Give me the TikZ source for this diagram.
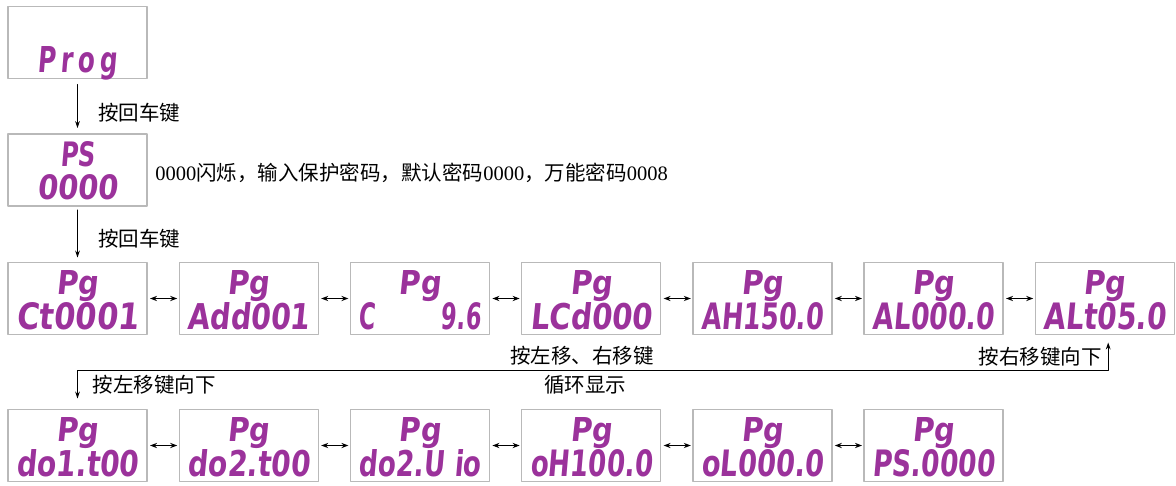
\documentclass[tikz,border=0pt]{standalone}
\usepackage{fontspec}
\usepackage{graphicx}
\setmainfont{Liberation Serif}
\newfontfamily\cjk{Noto Sans CJK SC}
\newfontfamily\lcdfont[FakeSlant=0.12]{DejaVu Sans}
\usetikzlibrary{positioning,arrows.meta,calc}

\definecolor{lcdpurple}{RGB}{155,50,155}
\definecolor{panelgray}{RGB}{185,185,185}

% segment-style text squeezed into a fixed field
\newcommand{\lcd}[3]{\resizebox{#1}{#2}{\lcdfont\bfseries #3}}

\begin{document}
\begin{tikzpicture}[x=0.5pt, y=-0.5pt, line cap=round, line join=round,
    panel/.style={draw=panelgray, line width=0.7pt, minimum width=69.5pt, minimum height=36pt, inner sep=0pt, outer sep=0pt},
    seg/.style={text=lcdpurple, inner sep=0pt, anchor=base},
    hint/.style={font=\fontsize{10.25pt}{12pt}\selectfont\cjk, inner sep=0pt},
    flow/.style={-{Stealth[length=3.5pt, width=2.4pt]}, line width=0.5pt},
    twoway/.style={{Stealth[length=3.5pt, width=2.6pt]}-{Stealth[length=3.5pt, width=2.6pt]}, line width=0.7pt, shorten <=1.5pt, shorten >=1pt}]

\useasboundingbox (0,0) rectangle (1176,486);

% start screens
\node[panel] (prog) at (77.5,42.5) {};
\node[panel] (ps) at (77.5,170) {};
\node[seg] (prog-a) at ($(prog.center)+(0,30.5)$) {\lcd{40pt}{13pt}{P\kern.2em r\kern.2em o\kern.2em g}};
\node[seg] (ps-a) at ($(ps.center)+(0,-3)$) {\lcd{17.5pt}{12.5pt}{PS}};
\node[seg] (ps-b) at ($(ps.center)+(0,30)$) {\lcd{40.5pt}{12.5pt}{0000}};

% parameter screens, first row
\node[panel] (ct) at (77.5,298.5) {};
\node[panel, right=16.1pt of ct] (add) {};
\node[panel, right=16.1pt of add] (baud) {};
\node[panel, right=16.1pt of baud] (lcd) {};
\node[panel, right=16.1pt of lcd] (ah) {};
\node[panel, right=16.1pt of ah] (al) {};
\node[panel, right=16.1pt of al] (alt) {};

% second row
\node[panel] (doa) at (77.5,445.5) {};
\node[panel, right=16.1pt of doa] (dob) {};
\node[panel, right=16.1pt of dob] (doc) {};
\node[panel, right=16.1pt of doc] (oh) {};
\node[panel, right=16.1pt of oh] (ol) {};
\node[panel, right=16.1pt of ol] (pw) {};

\foreach \nm/\val in {ct/Ct0001, add/Add001, baud/C\hspace{2.9em}9.6, lcd/LCd000,
    ah/AH150.0, al/AL000.0, alt/ALt05.0, doa/do1.t00, dob/do2.t00,
    doc/do2.U io, oh/oH100.0, ol/oL000.0, pw/PS.0000} {
    \node[seg] (\nm-a) at ($(\nm.center)+(0,-4.5)$) {\lcd{21pt}{12pt}{Pg}};
    \node[seg] (\nm-b) at ($(\nm.center)+(0,31)$) {\lcd{61pt}{13.5pt}{\val}};
}

% enter key steps
\draw[flow, shorten <=3pt, shorten >=3pt] (prog) -- (ps)
    node[midway, right=10pt, hint, yshift=-3pt] (enter1) {按回车键};
\draw[flow, shorten <=2pt, shorten >=2.5pt] (ps) -- (ct)
    node[midway, right=10pt, hint, yshift=-2pt] (enter2) {按回车键};
\node[hint, anchor=west] (pwnote) at ($(ps.east)+(8,3)$)
    {{\rmfamily 0000}闪烁，输入保护密码，默认密码{\rmfamily 0000}，万能密码{\rmfamily 0008}};

% left / right keys
\foreach \a/\b in {ct/add, add/baud, baud/lcd, lcd/ah, ah/al, al/alt,
    doa/dob, dob/doc, doc/oh, oh/ol, ol/pw} {
    \draw[twoway] (\a) -- (\b);
}

% jump between rows
\coordinate (up) at ($(alt.south)+(3.5,8)$);
\coordinate (turnr) at ($(alt.south)+(3.5,36)$);
\coordinate (turnl) at (turnr -| doa);
\coordinate (down) at ($(doa.north)+(0,-11)$);
\draw[flow, {Stealth[length=3.5pt, width=2.4pt]}-{Stealth[length=3.5pt, width=2.4pt]}]
    (up) -- (turnr) -- (turnl) -- (down);

\node[hint] (cycle1) at (582,356) {按左移、右移键};
\node[hint] (cycle2) at (585,385) {循环显示};
\node[hint, anchor=east] (rdown) at ($(turnr)+(-6,-14)$) {按右移键向下};
\node[hint, anchor=west] (ldown) at ($(turnl)+(15,14)$) {按左移键向下};

\end{tikzpicture}
\end{document}
